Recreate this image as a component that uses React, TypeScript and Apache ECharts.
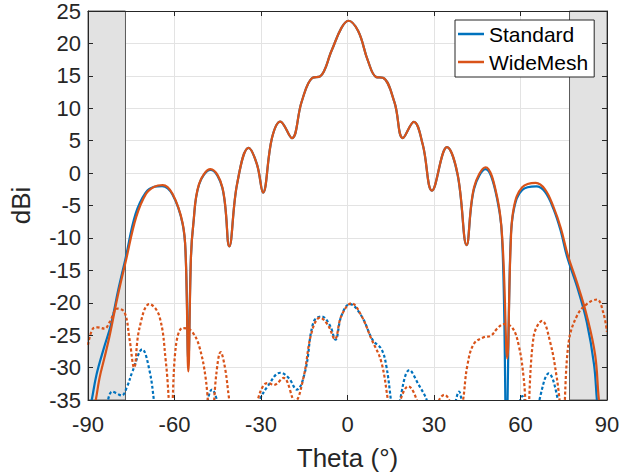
import React, { useEffect, useRef } from "react";
import * as echarts from "echarts";

// Solid lines: co-polar gain (dBi) vs theta (deg)
const standardCo: [number, number][] = [
  [-90, -38], [-88.7, -35], [-87, -31], [-84.5, -27.0], [-82, -23.3], [-79.5, -18], [-77, -13.2],
  [-73.5, -6.3], [-70, -3.0], [-67, -2.1], [-64.3, -2.0], [-60.7, -3.3], [-57.2, -7.8], [-56.1, -13],
  [-55.2, -29], [-54.3, -13], [-53.5, -8], [-51.5, -1.8], [-47.5, 0.5], [-43.4, -2.3], [-41, -11.3],
  [-38.3, -1.7], [-34.3, 3.9], [-31.4, 1.35], [-29.3, -3.0], [-26.2, 5.4], [-23.3, 7.95], [-19.3, 5.4],
  [-15.9, 11], [-12.2, 14.7], [-9.5, 14.9], [-5.5, 18.9], [-2.1, 22.4], [0.3, 23.5], [3.7, 21.9],
  [7.1, 17.3], [10, 14.8], [12.3, 14.7], [16.3, 10.9], [19.2, 5.4], [23, 7.9], [26.1, 4.4],
  [29.3, -2.7], [34.5, 4.0], [38.2, -0.3], [41.3, -11.1], [43.9, -2.4], [47.9, 0.6], [51.9, -4.0],
  [53.8, -12], [55.1, -40], [56.5, -11.5], [57.7, -5.6], [60.6, -2.6], [65.5, -2.05], [68.5, -2.9],
  [71.5, -5.6], [74, -9], [76.1, -12.8], [79.6, -17.5], [83, -23], [85.5, -29.5], [86.5, -35], [88, -42],
];

const wideMeshCo: [number, number][] = [
  [-90, -41], [-87.3, -35], [-86, -31.6], [-84.3, -28.5], [-82.5, -25.1], [-79.7, -19], [-76.8, -13.4],
  [-73.3, -6.8], [-69.9, -3.2], [-67, -2.1], [-64.1, -1.85], [-60.7, -3.2], [-57.2, -7.7], [-56.1, -13],
  [-55.2, -30.6], [-54.3, -13], [-53.5, -8], [-51.5, -1.7], [-47.5, 0.6], [-43.4, -2.2], [-41, -11.3],
  [-38.3, -1.7], [-34.3, 3.9], [-31.4, 1.35], [-29.3, -3.0], [-26.2, 5.4], [-23.3, 7.95], [-19.3, 5.4],
  [-15.9, 11], [-12.2, 14.7], [-9.5, 14.9], [-5.5, 18.9], [-2.1, 22.4], [0.3, 23.5], [3.7, 21.9],
  [7.1, 17.3], [10, 14.8], [12.3, 14.7], [16.3, 10.9], [19.2, 5.4], [23, 7.9], [26.1, 4.4],
  [29.3, -2.7], [34.5, 4.0], [38.2, -0.2], [41.3, -11.1], [43.9, -2.2], [47.9, 0.9], [51.9, -3.7],
  [53.8, -11], [55.4, -28.6], [56.6, -11], [57.7, -5.3], [60.6, -2.2], [65.3, -1.5], [68.5, -2.5],
  [71.5, -5.3], [74, -8.5], [76.5, -12.8], [79.6, -16.9], [83, -22], [85.9, -28.1], [87.2, -35], [90, -45],
];

// Dotted lines: cross-polar gain (dBi)
const standardX: [number, number][] = [
  [-86, -42], [-83.2, -35.3], [-81.6, -33.7], [-80, -34], [-78.3, -34.3], [-76.5, -33], [-74.5, -30.5],
  [-71.2, -27.2], [-68.7, -30.4], [-67, -35.5], [-65, -42], [-57, -50], [-49, -36], [-47, -33.4],
  [-45, -35.5], [-43, -40], [-36, -45], [-30.8, -35.5], [-27.4, -32.7], [-23.3, -30.8], [-20.4, -31.6],
  [-17.6, -33.4], [-14.7, -30.6], [-11.8, -23], [-9, -22.1], [-6.1, -23.5], [-4.2, -25.7], [-2.1, -22],
  [0.8, -20.2], [4.8, -22], [8.8, -25.8], [11.7, -27.1], [13.4, -29.6], [15.2, -35.5], [16.5, -40],
  [18, -35.5], [21.5, -30.4], [24.5, -32.5], [27.8, -35.5], [30, -42], [34, -45], [37.5, -35.3],
  [38.7, -33.7], [39.6, -35.3], [42, -45], [50, -50], [58, -42], [59.8, -35.3], [60.6, -34.4],
  [61.5, -35.3], [63.5, -42], [66.3, -35.5], [69.8, -30.9], [73.2, -35.5], [75, -42], [90, -50],
];

const wideMeshX: [number, number][] = [
  [-90, -26.5], [-88.3, -24.0], [-86.6, -23.8], [-84.3, -24.0], [-82.5, -23.0], [-79.7, -20.9],
  [-77.3, -21.5], [-75.6, -25.6], [-74, -30], [-72.2, -24], [-68.7, -20.2], [-65.3, -22], [-63, -29.1],
  [-61.2, -38], [-59.5, -26.6], [-57.2, -23.9], [-55.5, -24], [-53.8, -24.5], [-51.5, -26.6],
  [-49.2, -31.6], [-47.3, -40], [-45.5, -31], [-44, -27.6], [-42.5, -30], [-40.6, -36], [-36, -45],
  [-31.4, -35.5], [-29.1, -32.7], [-27.4, -32.4], [-25.6, -32.7], [-22.2, -31.6], [-18.2, -35.2],
  [-15.3, -31.6], [-12.4, -24.5], [-9.5, -22.3], [-6.7, -23.5], [-4.4, -25.6], [-2.1, -22], [1.4, -20.1],
  [4.8, -22], [8.3, -25.6], [11.7, -29.1], [14.2, -35.5], [16, -40], [18, -35.5], [21.1, -32.9],
  [24.4, -35.5], [28, -42], [31.5, -35.3], [33.6, -34.2], [35.5, -35.3], [37.5, -40], [39.9, -35.5],
  [41.6, -29.6], [43.9, -26.3], [47.4, -25.3], [49.7, -25.1], [51.9, -24], [54.2, -23.3], [57.1, -23.8],
  [59.4, -26.6], [61.1, -31.6], [62.3, -38], [64.6, -25.1], [67.5, -22.8], [70.3, -26.1], [72.6, -31.6],
  [74.6, -38], [76.7, -26.1], [79.6, -22], [83, -20.2], [86.5, -19.5], [88.7, -21.5], [90, -24.5],
];

const xTicks = { min: -90, max: 90, interval: 30 };
const yTicks = { min: -35, max: 25, interval: 5 };
const shadedRanges: [number, number][] = [[-90, -77], [77, 90]];
const legendNames = ["Standard", "WideMesh"];

const BLUE = "#0072BD";
const ORANGE = "#D95319";
const FONT = "'Liberation Sans', Arial, Helvetica, sans-serif";
const AXIS = "#262626";

export default function App() {
  const ref = useRef<HTMLDivElement>(null);
  useEffect(() => {
    document.body.style.margin = "0";
    if (!ref.current) return;
    const chart = echarts.init(ref.current, undefined, { renderer: "svg" });

    const overlayX = (position: string) => ({
      type: "value",
      position,
      ...xTicks,
      z: 5,
      axisLine: { show: true, onZero: false, lineStyle: { color: AXIS, width: 1 } },
      axisTick: { show: true, inside: true, length: 5, lineStyle: { color: AXIS } },
      axisLabel: { show: false },
      splitLine: { show: false },
    });
    const overlayY = (position: string) => ({
      type: "value",
      position,
      ...yTicks,
      z: 5,
      axisLine: { show: true, onZero: false, lineStyle: { color: AXIS, width: 1 } },
      axisTick: { show: true, inside: true, length: 5, lineStyle: { color: AXIS } },
      axisLabel: { show: false },
      splitLine: { show: false },
    });

    const line = (name: string, data: [number, number][], color: string, dotted: boolean) => ({
      name,
      type: "line",
      data,
      xAxisIndex: 0,
      yAxisIndex: 0,
      smooth: 0.4,
      symbol: "none",
      clip: true,
      z: 3,
      lineStyle: { color, width: 2.2, type: dotted ? [3, 2.2] : "solid" },
      itemStyle: { color },
    });

    chart.setOption({
      animation: false,
      backgroundColor: "#ffffff",
      grid: { left: 85, right: 34, top: 8, bottom: 74, containLabel: false },
      legend: {
        data: legendNames.map((n) => ({ name: n, icon: "rect" })),
        orient: "vertical",
        left: 455,
        top: 20,
        itemWidth: 26,
        itemHeight: 2.5,
        itemGap: 0,
        padding: [0, 6, 1, 3],
        backgroundColor: "#ffffff",
        borderColor: AXIS,
        borderWidth: 1,
        textStyle: { fontFamily: FONT, fontSize: 21, color: "#000", lineHeight: 28 },
        z: 10,
      },
      xAxis: [
        {
          type: "value",
          position: "bottom",
          ...xTicks,
          name: "Theta (°)",
          nameLocation: "middle",
          nameGap: 45,
          nameTextStyle: { fontFamily: FONT, fontSize: 26, color: AXIS },
          axisLine: { show: false, onZero: false },
          axisTick: { show: false },
          axisLabel: { fontFamily: FONT, fontSize: 22, color: AXIS, margin: 13 },
          splitLine: { show: true, lineStyle: { color: "#e3e3e3", width: 1 } },
        },
        overlayX("top"),
        overlayX("bottom"),
      ],
      yAxis: [
        {
          type: "value",
          position: "left",
          ...yTicks,
          name: "dBi",
          nameLocation: "middle",
          nameGap: 54,
          nameTextStyle: { fontFamily: FONT, fontSize: 26, color: AXIS },
          axisLine: { show: false, onZero: false },
          axisTick: { show: false },
          axisLabel: { fontFamily: FONT, fontSize: 22, color: AXIS, margin: 7 },
          splitLine: { show: true, lineStyle: { color: "#e3e3e3", width: 1 } },
        },
        overlayY("right"),
        overlayY("left"),
      ],
      series: [
        {
          name: "shade",
          type: "line",
          data: [],
          xAxisIndex: 0,
          yAxisIndex: 0,
          z: 1,
          silent: true,
          markArea: {
            silent: true,
            itemStyle: { color: "#e2e2e2", borderColor: "#5a5a5a", borderWidth: 1 },
            data: shadedRanges.map(([a, b]) => [{ xAxis: a }, { xAxis: b }]),
          },
        },
        line("Standard", standardCo, BLUE, false),
        line("WideMesh", wideMeshCo, ORANGE, false),
        line("Standard XP", standardX, BLUE, true),
        line("WideMesh XP", wideMeshX, ORANGE, true),
      ],
    });
    return () => chart.dispose();
  }, []);
  return <div ref={ref} style={{ width: 641, height: 476 }} />;
}
